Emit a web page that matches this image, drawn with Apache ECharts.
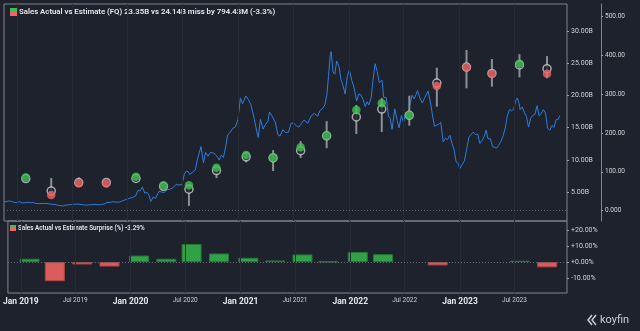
<!DOCTYPE html>
<html>
<head>
<meta charset="utf-8">
<script src="https://cdn.jsdelivr.net/npm/echarts@6/dist/echarts.min.js"></script>
<style>
html,body{margin:0;padding:0;background:#1e222d;}
#c{width:640px;height:331px;}
</style>
</head>
<body>
<div id="c"></div>
<script>
// ---------- DATA ----------
const quarterDates = ['2019-01-30','2019-04-24','2019-07-24','2019-10-23','2020-01-29','2020-04-29','2020-07-22','2020-10-21','2021-01-27','2021-04-26','2021-07-26','2021-10-20','2022-01-26','2022-04-20','2022-07-20','2022-10-19','2023-01-25','2023-04-19','2023-07-19','2023-10-18'];
const salesActual   = [7.23,4.54,6.35,6.30,7.38,5.99,6.04,8.77,10.74,10.39,11.96,13.76,17.72,18.76,16.93,21.45,24.32,23.33,24.93,23.35];
const salesEstimate = [7.08,5.16,6.45,6.48,7.09,5.87,5.42,8.32,10.46,10.29,11.41,13.71,16.65,17.87,16.90,21.91,24.40,23.40,24.73,24.14];
const estimateLow   = [7.00,4.60,6.30,6.30,6.90,5.70,2.83,7.15,9.60,8.26,10.28,11.80,14.00,14.30,15.30,18.25,21.10,21.35,22.80,22.65];
const estimateHigh  = [7.20,7.17,7.25,6.60,7.50,6.20,6.20,8.90,11.00,11.50,12.90,16.00,18.50,19.60,19.95,24.30,27.05,25.65,26.40,26.10];
const surprisePct   = [2.1,-12.0,-1.5,-2.8,4.1,2.1,11.4,5.4,2.7,1.0,4.8,0.4,6.4,5.0,null,-2.1,null,null,0.8,-3.29];

const priceDates = ['2018-11-19','2018-11-26','2018-12-03','2018-12-10','2018-12-17','2018-12-24','2019-01-02','2019-01-10','2019-01-18','2019-01-28','2019-02-05','2019-02-14','2019-02-25','2019-03-05','2019-03-15','2019-03-25','2019-04-04','2019-04-15','2019-04-25','2019-05-06','2019-05-16','2019-05-24','2019-06-03','2019-06-12','2019-06-21','2019-07-01','2019-07-11','2019-07-22','2019-07-26','2019-08-06','2019-08-15','2019-08-26','2019-09-05','2019-09-16','2019-09-26','2019-10-07','2019-10-17','2019-10-25','2019-11-05','2019-11-15','2019-11-25','2019-12-05','2019-12-16','2019-12-26','2020-01-08','2020-01-17','2020-01-28','2020-02-04','2020-02-12','2020-02-19','2020-02-27','2020-03-06','2020-03-12','2020-03-18','2020-03-26','2020-04-03','2020-04-14','2020-04-23','2020-05-01','2020-05-11','2020-05-20','2020-06-01','2020-06-10','2020-06-19','2020-06-29','2020-07-07','2020-07-13','2020-07-20','2020-07-24','2020-08-03','2020-08-12','2020-08-20','2020-08-31','2020-09-08','2020-09-15','2020-09-23','2020-10-01','2020-10-12','2020-10-22','2020-10-30','2020-11-06','2020-11-13','2020-11-20','2020-11-27','2020-12-04','2020-12-14','2020-12-22','2020-12-31','2021-01-08','2021-01-15','2021-01-26','2021-02-04','2021-02-12','2021-02-23','2021-03-04','2021-03-08','2021-03-15','2021-03-24','2021-04-01','2021-04-09','2021-04-14','2021-04-23','2021-05-03','2021-05-12','2021-05-19','2021-05-28','2021-06-07','2021-06-16','2021-06-24','2021-07-02','2021-07-12','2021-07-20','2021-07-29','2021-08-06','2021-08-12','2021-08-19','2021-08-30','2021-09-09','2021-09-20','2021-09-28','2021-10-06','2021-10-14','2021-10-21','2021-10-26','2021-11-01','2021-11-04','2021-11-10','2021-11-16','2021-11-22','2021-11-30','2021-12-06','2021-12-13','2021-12-20','2021-12-27','2022-01-03','2022-01-11','2022-01-18','2022-01-27','2022-02-03','2022-02-10','2022-02-18','2022-02-24','2022-03-03','2022-03-08','2022-03-16','2022-03-22','2022-03-29','2022-04-05','2022-04-12','2022-04-21','2022-04-26','2022-05-05','2022-05-12','2022-05-18','2022-05-24','2022-06-02','2022-06-10','2022-06-16','2022-06-24','2022-07-01','2022-07-08','2022-07-15','2022-07-22','2022-07-29','2022-08-05','2022-08-12','2022-08-16','2022-08-24','2022-09-01','2022-09-08','2022-09-13','2022-09-20','2022-09-27','2022-10-04','2022-10-11','2022-10-18','2022-10-25','2022-11-01','2022-11-09','2022-11-16','2022-11-23','2022-12-01','2022-12-08','2022-12-15','2022-12-22','2022-12-29','2023-01-03','2023-01-10','2023-01-18','2023-01-26','2023-02-02','2023-02-09','2023-02-16','2023-02-24','2023-03-03','2023-03-10','2023-03-17','2023-03-24','2023-03-31','2023-04-06','2023-04-14','2023-04-21','2023-04-27','2023-05-04','2023-05-11','2023-05-18','2023-05-26','2023-06-02','2023-06-09','2023-06-16','2023-06-23','2023-06-30','2023-07-06','2023-07-12','2023-07-18','2023-07-21','2023-07-28','2023-08-04','2023-08-11','2023-08-18','2023-08-25','2023-09-01','2023-09-08','2023-09-15','2023-09-22','2023-09-29','2023-10-06','2023-10-13','2023-10-20','2023-10-27','2023-11-03','2023-11-10','2023-11-17','2023-11-24','2023-11-29'];
const priceValues = [24,23,25,24.5,23,21,21.5,23,20,20.5,21.5,20.5,20.8,18.5,18.2,18.5,18.8,18,16.5,16,14,13,12.5,14.5,15,15.8,16.5,17,15,15.5,14.5,15,15.5,16.5,15.2,16,17.3,21,21.5,23.2,22,22.2,25.5,28.5,32,34,38,52,51,61,45,47,40,24,35,32,50,48,47,54,55,60,68,66,67,94,102,100,93,99,105,135,165,123,150,140,150,148,141,130,143,137,163,195,200,212,215,235,290,275,295,285,272,235,200,188,235,210,222,230,254,243,228,195,192,208,201,202,224,226,218,215,225,233,237,225,244,250,243,258,262,272,300,345,402,409,357,351,385,370,338,322,300,345,362,335,318,282,300,298,285,268,280,272,290,335,378,358,329,336,292,291,243,237,209,262,232,213,245,227,253,240,272,297,288,300,309,290,277,289,292,308,282,249,217,220,222,227,177,186,183,194,173,157,125,121,108,118,128,160,189,196,202,196,197,173,180,190,207,185,185,165,160,161,168,177,193,213,244,260,257,261,282,290,275,260,267,253,242,215,238,245,248,270,244,250,260,251,212,207,219,214,234,235,245];

const salesTicks = [5,10,15,20,25,30];
const priceTicks = [0,100,200,300,400,500];
const surpriseTicks = [-10,0,10,20];
const xTickDates = ['2019-01-01','2019-07-01','2020-01-01','2020-07-01','2021-01-01','2021-07-01','2022-01-01','2022-07-01','2023-01-01','2023-07-01'];

const titleText = 'Sales Actual vs Estimate (FQ) 23.35B vs 24.14B miss by 794.43M (-3.3%)';
const surpriseTitle = 'Sales Actual vs Estimate Surprise (%) -3.29%';

// ---------- HELPERS ----------
function ts(s){ const p = s.split('-'); return Date.UTC(+p[0], +p[1]-1, +p[2]); }
const BG = '#1e222d';
const GREEN = '#41c254', RED = '#f06565';
const BAR_GREEN = '#31a145', BAR_RED = '#db5c5c';
const FRAME = '#7f848e';
const GRIDC = '#262b36';
const LABEL = '#cfd3d8';
const FONT = 'Roboto, "Liberation Sans", Arial, sans-serif';

const xMin = ts('2018-11-19'), xMax = ts('2023-12-23');
const xTicksTs = xTickDates.map(ts);

const priceData = priceDates.map((d,i)=>[ts(d), priceValues[i]]);
const actualData = quarterDates.map((d,i)=>({value:[ts(d), salesActual[i]], itemStyle:{color: salesActual[i] >= salesEstimate[i] ? GREEN : RED}}));
const estData = quarterDates.map((d,i)=>[ts(d), salesEstimate[i]]);
const rangeData = quarterDates.map((d,i)=>[ts(d), estimateLow[i], estimateHigh[i]]);
const barData = quarterDates.map((d,i)=>{
  const v = surprisePct[i];
  if (v === null) return [ts(d), '-'];
  return {value:[ts(d), v], itemStyle:{color: v>=0?BAR_GREEN:BAR_RED, borderColor: v>=0?'#227a37':'#b04646', borderWidth:1}};
});
const vLines = xTicksTs.map(t=>({xAxis:t}));
const monthName = ['Jan','Feb','Mar','Apr','May','Jun','Jul','Aug','Sep','Oct','Nov','Dec'];

const chart = echarts.init(document.getElementById('c'), null, {renderer:'canvas'});
chart.setOption({
  backgroundColor: BG,
  animation: false,
  textStyle: {fontFamily: FONT},
  grid: [
    {left:4, right:73, top:4, height:217, show:true, borderColor:FRAME, borderWidth:1, backgroundColor:'transparent'},
    {left:4, right:73, top:221, height:72, show:true, borderColor:FRAME, borderWidth:1, backgroundColor:'transparent'}
  ],
  xAxis: [
    {type:'value', gridIndex:0, min:xMin, max:xMax, axisLine:{show:false}, axisTick:{show:false}, axisLabel:{show:false}, splitLine:{show:false}},
    {type:'value', gridIndex:1, min:xMin, max:xMax,
      axisLine:{show:false},
      axisTick:{show:true, customValues:xTicksTs, length:3, lineStyle:{color:FRAME}},
      axisLabel:{show:true, customValues:xTicksTs, margin:4, hideOverlap:false, showMinLabel:true, showMaxLabel:true,
        alignMinLabel:'center', alignMaxLabel:'center',
        formatter:function(v){ const d=new Date(v); const m=d.getUTCMonth(); const y=d.getUTCFullYear(); return m===0 ? '{j|Jan '+y+'}' : '{s|'+monthName[m]+' '+y+'}'; },
        rich:{ j:{fontSize:8.5, fontWeight:'bold', color:'#e4e6ea', fontFamily:FONT}, s:{fontSize:6.5, color:'#c9cdd2', fontFamily:FONT, padding:[0,0,3,0]} }
      },
      splitLine:{show:false}}
  ],
  yAxis: [
    {type:'value', gridIndex:0, position:'right', min:0.49, max:34.19, splitLine:{show:false},
      axisLine:{show:false},
      axisTick:{show:true, customValues:salesTicks, length:2, lineStyle:{color:'#9aa0a8'}},
      axisLabel:{customValues:salesTicks, color:LABEL, fontSize:7, margin:4, formatter:v=>v.toFixed(2)+'B'}},
    {type:'value', gridIndex:0, position:'right', offset:34, min:-26.5, max:531.6, splitLine:{show:false},
      axisLine:{show:true, lineStyle:{color:FRAME, width:1}},
      axisTick:{show:true, customValues:priceTicks, length:2, lineStyle:{color:'#9aa0a8'}},
      axisLabel:{customValues:priceTicks, color:LABEL, fontSize:6.5, margin:4, formatter:v=> v===0 ? '0.000' : v.toFixed(2)}},
    {type:'value', gridIndex:1, position:'right', min:-19.45, max:25.85, splitLine:{show:false},
      axisLine:{show:false},
      axisTick:{show:true, customValues:surpriseTicks, length:2, lineStyle:{color:'#9aa0a8'}},
      axisLabel:{customValues:surpriseTicks, color:LABEL, fontSize:7, margin:4, formatter:v=> (v>=0?'+':'')+v.toFixed(2)+'%'}}
  ],
  series: [
    {type:'line', xAxisIndex:0, yAxisIndex:1, data:priceData, showSymbol:false, symbol:'none',
      lineStyle:{color:'#2d7ddb', width:1}, z:2,
      markLine:{silent:true, symbol:'none', label:{show:false},
        data: vLines.map(v=>Object.assign({lineStyle:{color:GRIDC, type:'solid', width:1}}, v)).concat([{yAxis:0, lineStyle:{color:'#5d626c', type:[1,2], width:1}}])}},
    {type:'custom', xAxisIndex:0, yAxisIndex:0, data:rangeData, z:3,
      encode:{x:0, y:[1,2]},
      renderItem:function(params, api){
        const x = api.value(0);
        const lo = api.coord([x, api.value(1)]);
        const hi = api.coord([x, api.value(2)]);
        return {type:'line', shape:{x1:lo[0], y1:lo[1], x2:hi[0], y2:hi[1]}, style:{stroke:'#8c8f94', lineWidth:2}};
      }},
    {type:'scatter', xAxisIndex:0, yAxisIndex:0, data:estData, symbol:'circle', symbolSize:8, z:4,
      itemStyle:{color:BG, borderColor:'#c7c9cc', borderWidth:1.5}},
    {type:'scatter', xAxisIndex:0, yAxisIndex:0, data:actualData, symbol:'circle', symbolSize:8.5, z:5},
    {type:'bar', xAxisIndex:1, yAxisIndex:2, data:barData, barWidth:20, z:3,
      markLine:{silent:true, symbol:'none', label:{show:false},
        data: vLines.map(v=>Object.assign({lineStyle:{color:GRIDC, type:'solid', width:1}}, v)).concat([{yAxis:0, lineStyle:{color:'#6a6f79', type:[1,2], width:1}}])}}
  ],
  graphic: [
    {type:'rect', shape:{x:10, y:8, width:7, height:4}, style:{fill:'#3fbf52'}},
    {type:'rect', shape:{x:10, y:12, width:7, height:4}, style:{fill:'#f06565'}},
    {type:'text', x:19, y:12, style:{text:titleText, fill:'#e6e8eb', font:'600 7.8px '+FONT, textVerticalAlign:'middle'}},
    {type:'rect', shape:{x:10, y:225, width:6, height:3}, style:{fill:'#3fbf52'}},
    {type:'rect', shape:{x:10, y:228, width:6, height:3}, style:{fill:'#f06565'}},
    {type:'text', x:18, y:228, style:{text:surpriseTitle, fill:'#e6e8eb', font:'600 6.3px '+FONT, textVerticalAlign:'middle'}},
    {type:'polyline', shape:{points:[[592,315],[588,320],[592,325]]}, style:{stroke:'#c9cdd3', lineWidth:1.5, fill:null}},
    {type:'polyline', shape:{points:[[596,315],[592,320],[596,325]]}, style:{stroke:'#c9cdd3', lineWidth:1.5, fill:null}},
    {type:'text', x:600, y:320, style:{text:'koyfin', fill:'#c9cdd3', font:'11px '+FONT, textVerticalAlign:'middle'}}
  ]
});
</script>
</body>
</html>
